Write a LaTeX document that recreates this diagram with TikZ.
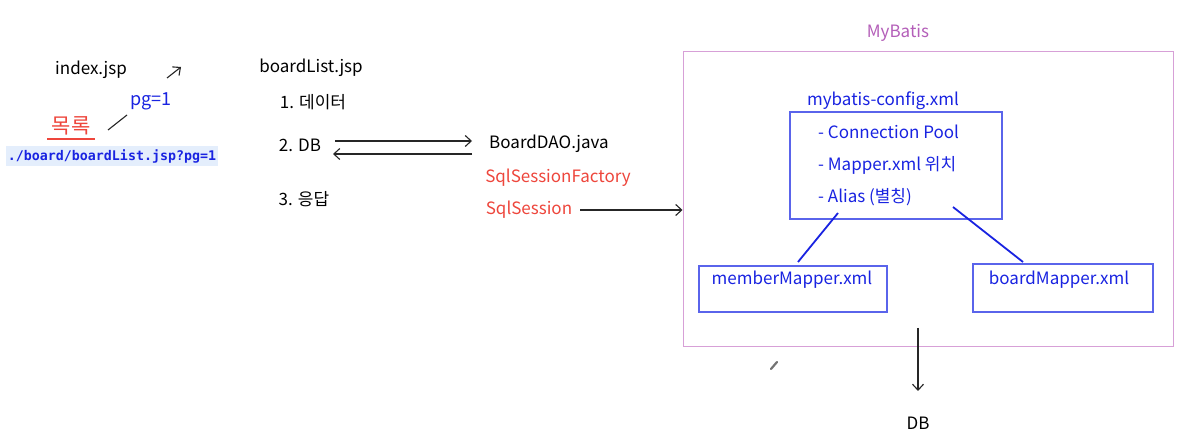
\documentclass[tikz,border=0pt]{standalone}
\usepackage{fontspec}
\setmainfont{Noto Sans CJK KR}
\newfontfamily\codefont{DejaVu Sans Mono}
\usetikzlibrary{arrows.meta}
\definecolor{myblue}{RGB}{25,35,225}
\definecolor{myred}{RGB}{238,70,60}
\definecolor{mypurple}{RGB}{180,95,185}
\definecolor{boxpurple}{RGB}{215,160,215}
\definecolor{boxblue}{RGB}{90,100,235}
\definecolor{codebg}{RGB}{228,238,252}
\tikzset{
  txt/.style={inner sep=0pt, font=\fontsize{17}{20}\selectfont},
  btxt/.style={txt, text=myblue},
  rtxt/.style={txt, text=myred},
  arr/.style={draw=black!85, line width=1.1pt, -{Straight Barb[length=6pt,width=11pt]}},
  plainline/.style={draw=black!85, line width=1.1pt},
  bluebox/.style={draw=boxblue, line width=1.1pt, inner sep=0pt},
  blueline/.style={draw=myblue, line width=1.8pt},
}
\begin{document}
\begin{tikzpicture}[x=1pt,y=-1pt]
\useasboundingbox[fill=white] (0,0) rectangle (1179,438);
% left part
\node[txt] (index) at (91,70) {index.jsp};
\node[rtxt, font=\fontsize{21}{24}\selectfont] (mokrok) at (71,126) {목록};
\coordinate (ul1) at (47,139);
\coordinate (ul2) at (95,139);
\draw[myred, line width=1.1pt] (ul1) -- (ul2);
\node[btxt, font=\fontsize{18}{21}\selectfont] (pg) at (151,101) {pg=1};
\coordinate (s1) at (108,130);
\coordinate (s2) at (127,115);
\draw[plainline] (s1) -- (s2);
\coordinate (a1) at (167,78);
\coordinate (a2) at (181,67);
\draw[arr] (a1) -- (a2);
\node[fill=codebg, inner xsep=2pt, inner ysep=3pt, font=\codefont\bfseries\fontsize{13.3}{15}\selectfont, text=myblue] (url) at (112,156) {./board/boardList.jsp?pg=1};
% boardList
\node[txt] (blist) at (311,68) {boardList.jsp};
\node[txt] (d1) at (313,102) {1. 데이터};
\node[txt] (d2) at (300,145) {2. DB};
\node[txt] (d3) at (304,199) {3. 응답};
\node[txt] (dao) at (549,144) {BoardDAO.java};
\node[rtxt] (ssf) at (558,178) {SqlSessionFactory};
\node[rtxt] (ss) at (529,210) {SqlSession};
\coordinate (r1) at (335,141);
\coordinate (r2) at (472,141);
\coordinate (l1s) at (472,154);
\coordinate (l1e) at (333,154);
\draw[arr] (r1) -- (r2);
\draw[arr] (l1s) -- (l1e);
% MyBatis
\node[txt, text=mypurple] (mblabel) at (898,33) {MyBatis};
\node[draw=boxpurple, line width=1pt, minimum width=490pt, minimum height=295pt, inner sep=0pt] (mb) at (928,199.5) {};
\draw[arr] ([xshift=8pt]ss.east) -- (mb.west |- ss);
\node[btxt] (cfgt) at (883,101) {mybatis-config.xml};
\node[bluebox, minimum width=212pt, minimum height=107pt] (cfg) at (896,165.5) {};
\node[btxt, anchor=west] (l1) at (818,132) {- Connection Pool};
\node[btxt, anchor=west] (l2) at (818,165) {- Mapper.xml 위치};
\node[btxt, anchor=west] (l3) at (818,197) {- Alias (별칭)};
\node[bluebox, minimum width=188pt, minimum height=46pt] (mem) at (793,289) {};
\node[btxt] (memt) at (792,280) {memberMapper.xml};
\node[bluebox, minimum width=180pt, minimum height=48pt] (brd) at (1063,288) {};
\node[btxt] (brdt) at (1059,280) {boardMapper.xml};
\coordinate (c1) at (838,213);
\coordinate (c2) at (798,262);
\coordinate (c3) at (953,207);
\coordinate (c4) at (1023,262);
\draw[blueline] (c1) -- (c2);
\draw[blueline] (c3) -- (c4);
% DB
\node[txt] (db) at (918,423) {DB};
\coordinate (dbs) at (918,328);
\coordinate (dbe) at (918,391);
\draw[arr] (dbs) -- (dbe);
% pencil cursor
\draw[black!55, line width=2.2pt, line cap=round] (771,369) -- (777,362);
\end{tikzpicture}
\end{document}
